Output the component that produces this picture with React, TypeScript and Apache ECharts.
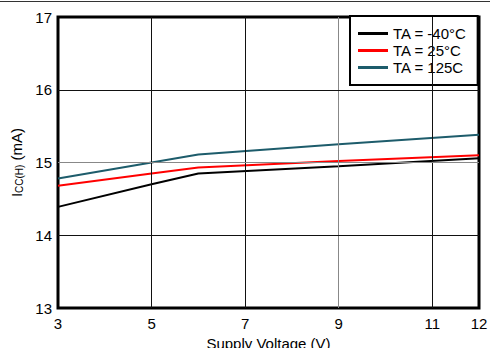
import React, { useEffect, useRef } from "react";
import * as echarts from "echarts";

const voltage = [3, 5, 6, 9, 12];
const tMinus40 = [14.39, 14.7, 14.85, 14.95, 15.06];
const t25 = [14.68, 14.85, 14.93, 15.02, 15.1];
const t125 = [14.78, 15.0, 15.11, 15.25, 15.38];
const seriesNames = ["TA = -40°C", "TA = 25°C", "TA = 125C"];
const xGridBlack = [5, 7, 11];
const xGridGray = [9];
const yGridBlack = [14, 16];
const yGridGray = [15];
const xLabels = [3, 5, 7, 9, 11, 12];

const FONT = "Liberation Sans";

export default function App() {
  const ref = useRef<HTMLDivElement>(null);
  useEffect(() => {
    const chart = echarts.init(ref.current!, null, { renderer: "svg" });
    const pair = (ys: number[]) => voltage.map((x, i) => [x, ys[i]]);
    const gridData: any[] = [
      ...xGridBlack.map((v) => ({ xAxis: v })),
      ...xGridGray.map((v) => ({ xAxis: v, lineStyle: { color: "#888" } })),
      ...yGridBlack.map((v) => ({ yAxis: v })),
      ...yGridGray.map((v) => ({ yAxis: v, lineStyle: { color: "#888" } })),
    ];
    chart.setOption({
      animation: false,
      textStyle: { fontFamily: FONT },
      graphic: [
        {
          type: "line",
          shape: { x1: 0, y1: 1.5, x2: 490, y2: 1.5 },
          style: { stroke: "#333", lineWidth: 1 },
        },
      ],
      grid: {
        left: 58,
        top: 17,
        right: 11,
        bottom: 40,
        outerBoundsMode: "none",
        containLabel: false,
        show: true,
        borderColor: "#000",
        borderWidth: 3,
      },
      legend: {
        data: seriesNames,
        orient: "vertical",
        left: 350,
        top: 16,
        padding: [9, 11, 9, 8],
        itemGap: 0,
        itemWidth: 30,
        itemHeight: 3,
        icon: "rect",
        borderColor: "#000",
        borderWidth: 2,
        backgroundColor: "#fff",
        textStyle: { fontFamily: FONT, fontSize: 15, color: "#000", lineHeight: 17 },
      },
      xAxis: {
        type: "value",
        min: 3,
        max: 12,
        interval: 1,
        name: "Supply Voltage (V)",
        nameLocation: "middle",
        nameGap: 27,
        nameTextStyle: { fontFamily: FONT, fontSize: 15, color: "#000" },
        axisLine: { show: false },
        axisTick: { show: false },
        splitLine: { show: false },
        axisLabel: {
          fontFamily: FONT,
          fontSize: 15,
          color: "#000",
          margin: 8,
          formatter: (v: number) => (xLabels.includes(v) ? String(v) : ""),
        },
      },
      yAxis: {
        type: "value",
        min: 13,
        max: 17,
        interval: 1,
        name: "{i|I}{sub|CC(H)}{i| (mA)}",
        nameLocation: "middle",
        nameGap: 33,
        nameTextStyle: {
          rich: {
            i: { fontFamily: FONT, fontSize: 15, color: "#000" },
            sub: { fontFamily: FONT, fontSize: 10, color: "#000", padding: [6, 0, 0, 0] },
          },
        },
        axisLine: { show: false },
        axisTick: { show: false },
        splitLine: { show: false },
        axisLabel: { fontFamily: FONT, fontSize: 15, color: "#000", margin: 6 },
      },
      series: [
        {
          name: "gridlines",
          type: "line",
          data: [],
          z: 1,
          silent: true,
          markLine: {
            silent: true,
            symbol: "none",
            label: { show: false },
            lineStyle: { color: "#111", width: 1, type: "solid" },
            data: gridData,
          },
        },
        {
          name: seriesNames[0],
          type: "line",
          data: pair(tMinus40),
          showSymbol: false,
          symbol: "none",
          z: 3,
          color: "#000",
          lineStyle: { color: "#000", width: 2 },
        },
        {
          name: seriesNames[1],
          type: "line",
          data: pair(t25),
          showSymbol: false,
          symbol: "none",
          z: 3,
          color: "#ff0000",
          lineStyle: { color: "#ff0000", width: 2 },
        },
        {
          name: seriesNames[2],
          type: "line",
          data: pair(t125),
          showSymbol: false,
          symbol: "none",
          z: 3,
          color: "#1d5c6b",
          lineStyle: { color: "#1d5c6b", width: 2 },
        },
      ],
    });
    return () => chart.dispose();
  }, []);
  return <div ref={ref} style={{ width: 490, height: 348, position: "absolute", left: 0, top: 0 }} />;
}
